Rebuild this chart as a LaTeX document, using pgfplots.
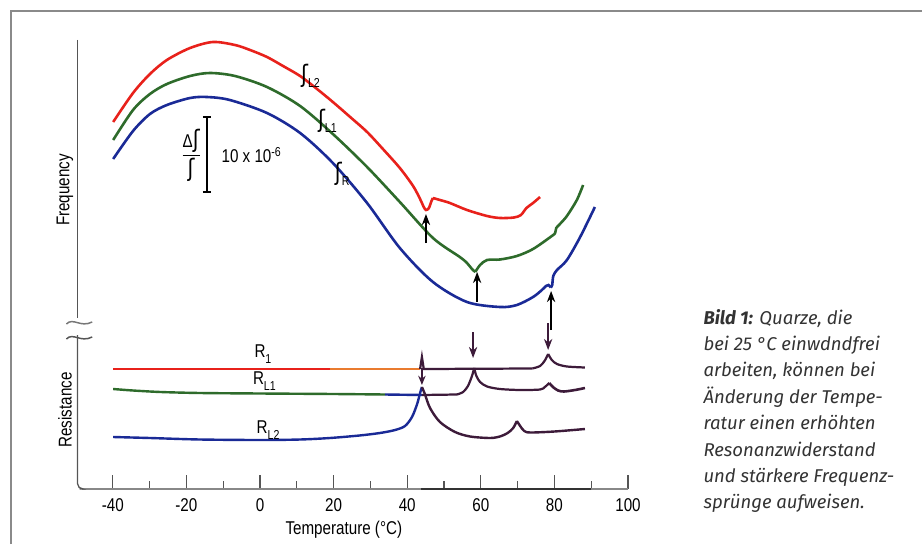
\documentclass[border=0pt]{standalone}
\usepackage{pgfplots}
\pgfplotsset{compat=1.18}
\usetikzlibrary{arrows.meta}
\usepackage{fontspec}
\setmainfont{Liberation Sans}
\newfontfamily\condfont[FakeStretch=0.82]{Liberation Sans}
\newfontfamily\eshfont[FakeStretch=0.85]{DejaVu Sans}
\newfontfamily\capfont{Fira Sans}
\definecolor{CurveRed}{HTML}{E8211B}
\definecolor{CurveGreen}{HTML}{2E6B2B}
\definecolor{CurveBlue}{HTML}{1A2A96}
\definecolor{ResDark}{HTML}{3D1B3A}
\definecolor{ResOrange}{HTML}{E97B2F}
\definecolor{AxisGray}{HTML}{555555}
\definecolor{FrameGray}{HTML}{8A8A8A}
\newcommand{\esh}{{\eshfont\fontsize{13}{13}\selectfont ʃ}}
\newcommand{\lbl}{\condfont\fontsize{10}{12}\selectfont}
\newcommand{\sub}[1]{\raisebox{-0.55ex}{\condfont\fontsize{7}{8}\selectfont #1}}

\begin{document}
\begin{tikzpicture}
\begin{axis}[
  x=1.9872pt, y=0.54pt,
  xmin=-48.5, xmax=100, ymin=55, ymax=504,
  clip=false,
  axis x line*=bottom, axis y line=none,
  axis line style={-, draw=AxisGray!70, line width=0.6pt},
  xtick={-40,-20,...,100},
  xticklabels={-40,-20,0,20,40,60,80,100},
  minor xtick={-30,-10,...,90},
  tick align=inside,
  major tick length=7.5pt, minor tick length=4.5pt,
  every tick/.style={AxisGray, line width=0.6pt},
  xticklabel style={font=\lbl, yshift=-1.7pt},
  xlabel={Temperature (°C)},
  xlabel style={font=\lbl, at={(axis description cs:0.48,0)}, anchor=base, yshift=-24.6pt},
]
% frequency curves
\addplot[CurveRed, line width=1.4pt, smooth, tension=0.5] coordinates {
  (-39.9,422) (-34.5,451) (-29.9,470) (-25.3,484) (-19.0,496) (-12.8,502)
  (-6.8,499) (-2.7,494) (1.9,487) (6.25,478) (10.9,468) (15.5,455)
  (19.8,442) (24.5,427) (29.1,412) (33.4,395) (38.0,376) (41.6,358)
  (43.5,345) (44.5,337) (45.1,334) (45.9,336) (46.6,343) (47.0,346)};
\addplot[CurveRed, line width=1.4pt, smooth, tension=0.5] coordinates {
  (47.0,346) (48.9,344) (51.6,341) (56.25,334) (61.7,328) (65.2,326)
  (69.0,326.5) (70.9,329) (72.4,336) (74.2,341) (76.1,347)};
\addplot[CurveGreen, line width=1.4pt, smooth, tension=0.5] coordinates {
  (-39.9,404) (-34.5,434) (-29.9,450) (-25.3,460) (-19.0,468) (-13.6,471)
  (-6.8,468) (1.9,457) (10.9,438) (19.8,410) (29.1,377) (38.0,342)
  (47.0,306) (54.3,287) (56.25,281) (57.6,275) (58.5,272)};
\addplot[CurveGreen, line width=1.4pt, smooth, tension=0.5] coordinates {
  (58.5,272) (59.8,279) (61.7,284) (65.2,284.5) (69.8,288) (74.2,295)
  (79.3,308) (80.2,311) (80.5,316) (81.5,320) (83.4,328) (86.1,344) (87.8,359)};
\addplot[CurveBlue, line width=1.4pt, smooth, tension=0.5] coordinates {
  (-39.9,385) (-34.5,413) (-29.9,430) (-25.3,439) (-19.0,446) (-14.4,447)
  (-8.2,444) (1.9,431) (10.9,411) (19.8,381) (29.1,341) (38.0,296)
  (47.0,262) (56.25,242) (65.2,237) (69.8,239) (74.2,247) (76.6,254)
  (77.7,258) (78.4,259) (79.0,256.5)};
\addplot[CurveBlue, line width=1.4pt, smooth, tension=0.5] coordinates {
  (79.0,256.5) (79.4,259) (79.7,268) (80.7,274) (83.4,284) (87.0,307) (91.0,337)};
% resistance curves
\addplot[CurveRed, line width=1.3pt] coordinates {(-39.9,175) (19.0,175)};
\addplot[ResOrange, line width=1.3pt] coordinates {(19.0,175) (43.6,175)};
\addplot[ResDark, line width=1.2pt] coordinates {(43.5,175) (44.0,187) (44.5,175) (74.0,175.5)};
\addplot[ResDark, line width=1.2pt, smooth, tension=0.5] coordinates {
  (74.0,175.5) (76.1,178) (77.4,183.5) (78.3,190)};
\addplot[ResDark, line width=1.2pt, smooth, tension=0.5] coordinates {
  (78.3,190) (79.3,184) (80.7,180) (83.4,177.5) (88.3,176.5)};
\addplot[CurveGreen, line width=1.3pt, smooth, tension=0.5] coordinates {
  (-39.9,155) (-34.5,153.5) (-27.0,152) (-16.3,151) (0,150.5) (20,150) (34.0,149.5)};
\addplot[CurveBlue, line width=1.3pt] coordinates {(34.0,149.5) (44.0,149)};
\addplot[ResDark, line width=1.2pt] coordinates {(44.0,149) (53.5,149.5)};
\addplot[ResDark, line width=1.2pt, smooth, tension=0.5] coordinates {
  (53.5,149.5) (55.2,152) (56.5,158) (57.6,168) (58.2,176)};
\addplot[ResDark, line width=1.2pt, smooth, tension=0.5] coordinates {
  (58.2,176) (58.8,168) (59.8,162) (61.7,157.5) (65.2,155) (70.7,154)
  (76.1,154.5) (77.4,157) (78.6,161)};
\addplot[ResDark, line width=1.4pt, smooth, tension=0.5] coordinates {
  (78.6,161) (79.6,157) (81.0,153.5) (82.6,152.5) (85.6,154) (88.3,156)};
\addplot[CurveBlue, line width=1.3pt, smooth, tension=0.5] coordinates {
  (-39.9,107) (-29.9,106) (-16.3,104.5) (0,104) (10.9,104.5) (19.0,106)
  (27.0,108.5) (32.6,111) (36.7,114) (39.4,118) (41.3,127) (42.7,140)
  (43.5,151) (44.0,157)};
\addplot[ResDark, line width=1.3pt, smooth, tension=0.5] coordinates {
  (44.0,157) (44.8,150) (46.2,136) (48.9,122) (53.0,112) (57.1,107.5)
  (62.5,106) (65.2,107.5) (67.3,111) (68.8,116) (69.8,123)};
\addplot[ResDark, line width=1.3pt, smooth, tension=0.5] coordinates {
  (69.8,123) (70.7,118) (71.8,113) (73.5,111.5) (80,112.5) (88.3,115)};
% arrows
\addplot[black, line width=0.8pt, -{Stealth[length=6pt,width=4.5pt]}] coordinates {(45.1,301) (45.1,330)};
\addplot[black, line width=0.8pt, -{Stealth[length=6pt,width=4.5pt]}] coordinates {(59.0,242) (59.0,272)};
\addplot[black, line width=0.8pt, -{Stealth[length=6pt,width=4.5pt]}] coordinates {(79.1,214) (79.1,253)};
\addplot[ResDark, line width=0.8pt, -{Stealth[length=6pt,width=4.5pt]}] coordinates {(57.9,212) (57.9,186)};
\addplot[ResDark, line width=0.8pt, -{Stealth[length=6pt,width=4.5pt]}] coordinates {(78.3,221) (78.3,194)};
\addplot[ResDark, line width=0.8pt, -{Stealth[length=5pt,width=4pt]}] coordinates {(44.0,176) (44.0,159)};
% x axis thick segment
\addplot[black!80, line width=1.3pt] coordinates {(43.8,55) (90,55)};
% scale bar
\addplot[black, line width=0.7pt] coordinates {(-14.4,427) (-14.4,352)};
\addplot[black, line width=0.7pt] coordinates {(-15.5,427) (-13.3,427)};
\addplot[black, line width=0.7pt] coordinates {(-15.5,352) (-13.3,352)};
% left axis with break
\addplot[AxisGray, line width=0.7pt] coordinates {(-49.6,504) (-49.6,226)};
\draw[AxisGray, line width=0.7pt, rounded corners=3pt]
  (axis cs:-49.6,209) -- (axis cs:-49.6,55) -- (axis cs:-47.5,55) -- (axis cs:-48.5,55);
\draw[AxisGray!80, line width=0.8pt] (axis cs:-52.6,220) .. controls (axis cs:-50.8,227) and (axis cs:-48.8,216) .. (axis cs:-45.6,222);
\draw[AxisGray, line width=0.8pt] (axis cs:-52.6,205) .. controls (axis cs:-50.8,212) and (axis cs:-48.8,201) .. (axis cs:-45.6,207);
% labels
\node[font=\lbl, rotate=90] at (axis cs:-53.0,354) {Frequency};
\node[font=\lbl, rotate=90] at (axis cs:-53.0,134) {Resistance};
\node[anchor=west, font=\lbl] at (axis cs:9.4,468) {\esh\sub{L2}};
\node[anchor=west, font=\lbl] at (axis cs:14.0,423) {\esh\sub{L1}};
\node[anchor=west, font=\lbl] at (axis cs:18.6,370) {\esh\sub{R}};
\node[font=\lbl] at (axis cs:-18.7,389) {$\displaystyle\frac{\mbox{Δ\esh}}{\mbox{\esh}}$};
\node[anchor=west, font=\lbl] at (axis cs:-12.2,389) {10 x 10\textsuperscript{-6}};
\node[font=\lbl] at (axis cs:0.8,190) {R\sub{1}};
\node[font=\lbl] at (axis cs:1.2,163) {R\sub{L1}};
\node[font=\lbl] at (axis cs:2.2,114) {R\sub{L2}};
% caption
\begin{scope}[every node/.style={anchor=base west, text=black!80, font=\capfont\itshape\fontsize{10}{12}\selectfont}]
\node at (axis cs:118.75,220) {\textbf{Bild 1:} Quarze, die};
\node at (axis cs:118.75,193.6) {bei 25 °C einwdndfrei};
\node at (axis cs:118.75,167.2) {arbeiten, können bei};
\node at (axis cs:118.75,140.8) {Änderung der Tempe-};
\node at (axis cs:118.75,114.4) {ratur einen erhöhten};
\node at (axis cs:118.75,88) {Resonanzwiderstand};
\node at (axis cs:118.75,61.6) {und stärkere Frequenz-};
\node at (axis cs:118.75,35.2) {sprünge aufweisen.};
\end{scope}
% frame
\draw[FrameGray, line width=1.1pt] (axis cs:-67.66,0) -- (axis cs:-67.66,533) -- (axis cs:179.89,533);
\coordinate (bbSW) at (axis cs:-70.65,0);
\coordinate (bbNE) at (axis cs:179.89,544);
\end{axis}
\pgfresetboundingbox
\path[use as bounding box] (bbSW) rectangle (bbNE);
\end{tikzpicture}
\end{document}
